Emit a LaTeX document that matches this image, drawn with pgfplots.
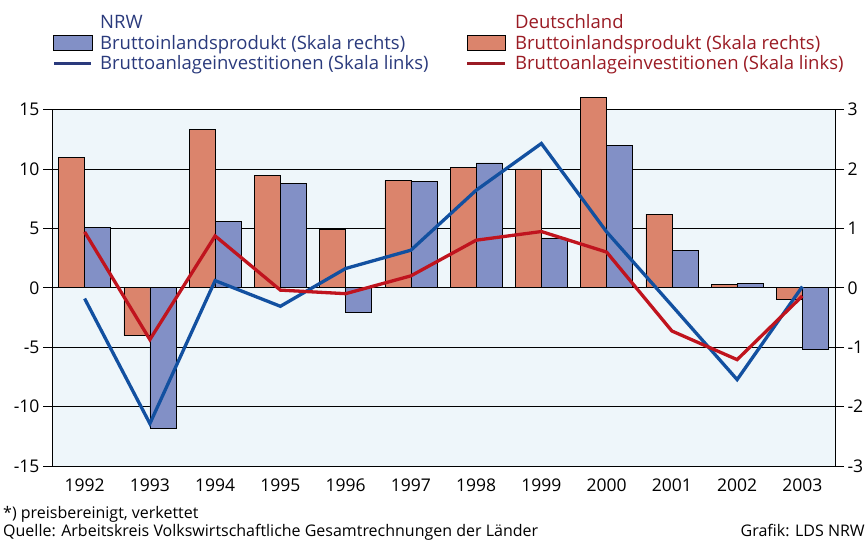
\documentclass[border=0pt]{standalone}
\usepackage{fontspec}
\setmainfont{Open Sans}
\usepackage{pgfplots}
\pgfplotsset{compat=1.18}
\definecolor{bgblue}{HTML}{EEF6FA}
\definecolor{barDE}{HTML}{DB846C}
\definecolor{barNRW}{HTML}{8290C6}
\definecolor{lineNRW}{HTML}{1250A0}
\definecolor{lineDE}{HTML}{C0141E}
\definecolor{txtNRW}{HTML}{2A3A7C}
\definecolor{txtDE}{HTML}{9A1B24}
\pgfplotstableread{
x de nrw
0  2.20  1.01
1 -0.80 -2.36
2  2.66  1.12
3  1.89  1.75
4  0.98 -0.41
5  1.80  1.79
6  2.02  2.10
7  2.00  0.84
8  3.21  2.40
9  1.24  0.63
10 0.06  0.07
11 -0.19 -1.04
}\bip
\pgfplotstableread{
x nrw de
0  -0.91  4.70
1 -11.43 -4.36
2   0.60  4.36
3  -1.56 -0.20
4   1.62 -0.50
5   3.16  1.00
6   8.20  4.00
7  12.14  4.73
8   4.70  3.00
9  -1.50 -3.64
10 -7.73 -6.05
11  0.10 -0.69
}\inv
\begin{document}
\begin{tikzpicture}[x=1pt,y=1pt]
\useasboundingbox (0,0) rectangle (867,545);
\begin{axis}[at={(52pt,79pt)}, anchor=south west,
  width=783pt, height=356.5pt, scale only axis,
  xmin=-0.5, xmax=11.5, ymin=-3, ymax=3,
  axis background/.style={fill=bgblue},
  clip=false,
  xtick={0,...,11},
  xticklabels={1992,1993,1994,1995,1996,1997,1998,1999,2000,2001,2002,2003},
  x tick style={draw=none},
  ytick={-3,...,3},
  ytick pos=right, yticklabel pos=right,
  tick align=outside, major tick length=9pt,
  ymajorgrids, grid style={black, line width=0.7pt},
  axis line style={black, line width=0.8pt},
  y tick style={black, line width=0.8pt},
  ticklabel style={font=\fontsize{17.5}{20}\selectfont},
  /pgf/number format/assume math mode=true,
]
\addplot[ybar, bar width=26pt, bar shift=-13pt, fill=barDE, draw=black, line width=0.6pt] table[x=x,y=de]{\bip};
\addplot[ybar, bar width=26pt, bar shift=13pt, fill=barNRW, draw=black, line width=0.6pt] table[x=x,y=nrw]{\bip};
\end{axis}
\begin{axis}[at={(52pt,79pt)}, anchor=south west,
  width=783pt, height=356.5pt, scale only axis,
  xmin=-0.5, xmax=11.5, ymin=-15, ymax=15,
  hide x axis, axis y line*=left,
  ytick={-15,-10,...,15},
  tick align=outside, major tick length=9pt,
  axis line style={black, line width=0.8pt},
  y tick style={black, line width=0.8pt},
  ticklabel style={font=\fontsize{17.5}{20}\selectfont},
  /pgf/number format/assume math mode=true,
]
\addplot[lineNRW, line width=3.3pt] table[x=x,y=nrw]{\inv};
\addplot[lineDE, line width=3.3pt] table[x=x,y=de]{\inv};
\end{axis}
% legend
\begin{scope}[font=\fontsize{18.5}{21}\selectfont]
\node[anchor=base west, inner sep=0, text=txtNRW] at (100,516.7) {NRW};
\filldraw[fill=barNRW, draw=black, line width=0.8pt] (53,494.5) rectangle (92,510);
\node[anchor=base west, inner sep=0, text=txtNRW] at (100,495.5) {Bruttoinlandsprodukt (Skala rechts)};
\draw[txtNRW, line width=3.5pt] (54,481.5) -- (91,481.5);
\node[anchor=base west, inner sep=0, text=txtNRW] at (100,475.5) {Bruttoanlageinvestitionen (Skala links)};
\node[anchor=base west, inner sep=0, text=txtDE] at (515,516.7) {Deutschland};
\filldraw[fill=barDE, draw=black, line width=0.8pt] (467,494.5) rectangle (505,510);
\node[anchor=base west, inner sep=0, text=txtDE] at (515,495.5) {Bruttoinlandsprodukt (Skala rechts)};
\draw[txtDE, line width=3.5pt] (467,481.5) -- (505,481.5);
\node[anchor=base west, inner sep=0, text=txtDE] at (515,475.5) {Bruttoanlageinvestitionen (Skala links)};
\end{scope}
% footer
\begin{scope}[font=\fontsize{16}{18}\selectfont]
\node[anchor=base west, inner sep=0] at (3,26) {*) preisbereinigt, verkettet};
\node[anchor=base west, inner sep=0] at (3,8) {Quelle: Arbeitskreis Volkswirtschaftliche Gesamtrechnungen der Länder};
\node[anchor=base east, inner sep=0] at (865,8) {Grafik: LDS NRW};
\end{scope}
\end{tikzpicture}
\end{document}
